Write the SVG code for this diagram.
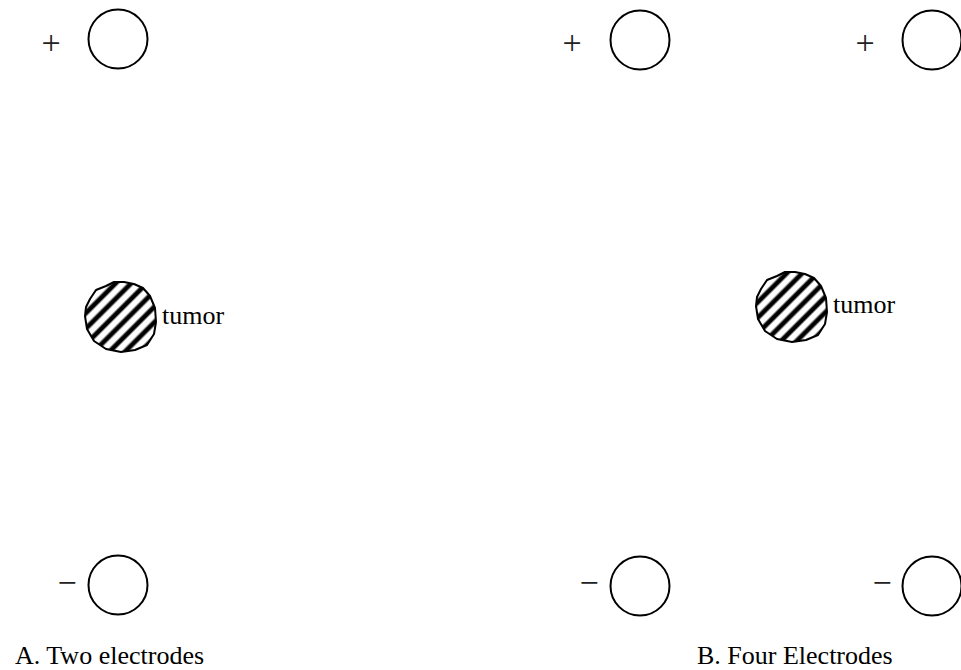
<svg xmlns="http://www.w3.org/2000/svg" width="961" height="670" viewBox="0 0 961 670">
<style>
.el{fill:none;stroke:#000;stroke-width:2}
.sign{font-family:"Liberation Serif","Times New Roman",serif;font-size:34px;fill:#222;text-anchor:middle}
.lbl{font-family:"Liberation Serif","Times New Roman",serif;font-size:26px;fill:#000}
.tumor{fill:url(#stripes);stroke:#000;stroke-width:2;stroke-linejoin:round}
</style>
<defs>
<linearGradient id="band" x1="0" y1="0" x2="1" y2="0">
<stop offset="0" stop-color="#fff"/>
<stop offset="0.25" stop-color="#fff"/>
<stop offset="0.42" stop-color="#000"/>
<stop offset="0.68" stop-color="#000"/>
<stop offset="0.85" stop-color="#fff"/>
<stop offset="1" stop-color="#fff"/>
</linearGradient>
<pattern id="stripes" patternUnits="userSpaceOnUse" width="11" height="11" patternTransform="rotate(45)">
<rect x="0" y="0" width="11" height="11" fill="url(#band)"/>
</pattern>
<path id="blob" d="M -30,-18 L -24,-27 L -14,-31 L -6,-35 L 4,-35 L 14,-33 L 23,-29 L 30,-21 L 35,-9 L 36,5 L 34,17 L 27,28 L 15,33 L 1,35 L -14,32 L -26,24 L -33,12 L -35,-1 L -34,-10 Z"/>
</defs>
<g id="panelA">
<g id="A_plus"><text class="sign" x="51" y="54">+</text><circle class="el" cx="118" cy="39" r="29.5"/></g>
<g id="A_tumor"><use href="#blob" class="tumor" transform="translate(120,317)"/><text class="lbl" x="162" y="324">tumor</text></g>
<g id="A_minus"><text class="sign" x="67" y="594">−</text><circle class="el" cx="118" cy="585" r="29.5"/></g>
<g id="A_label"><text class="lbl" x="15" y="664">A. Two electrodes</text></g>
</g>
<g id="panelB">
<g id="B_plus1"><text class="sign" x="572" y="54">+</text><circle class="el" cx="640" cy="40" r="29.5"/></g>
<g id="B_plus2"><text class="sign" x="865" y="54">+</text><circle class="el" cx="932" cy="40" r="29.5"/></g>
<g id="B_tumor"><use href="#blob" class="tumor" transform="translate(791,307)"/><text class="lbl" x="833" y="313">tumor</text></g>
<g id="B_minus1"><text class="sign" x="589" y="594">−</text><circle class="el" cx="640" cy="586" r="29.5"/></g>
<g id="B_minus2"><text class="sign" x="882" y="594">−</text><circle class="el" cx="932" cy="586" r="29.5"/></g>
<g id="B_label"><text class="lbl" x="697" y="664">B. Four Electrodes</text></g>
</g>
</svg>
